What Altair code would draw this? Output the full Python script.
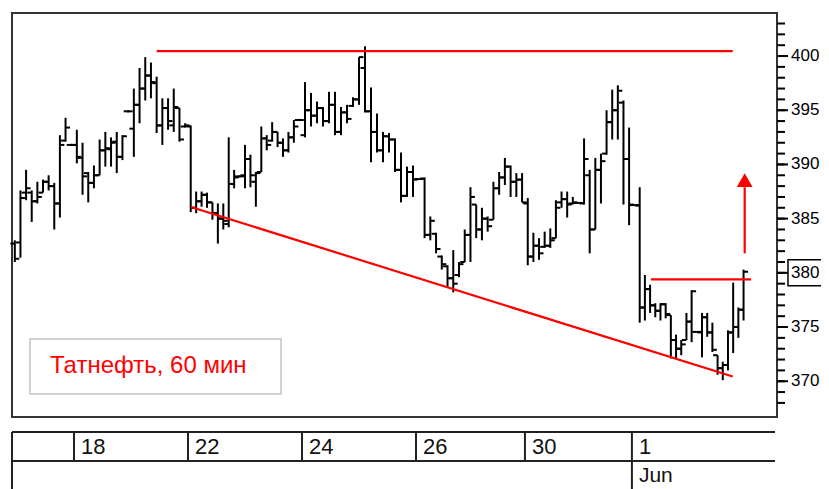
import altair as alt
import pandas as pd

# ---- time axis: bar slots, day separators (in slot units) ----
SEG_BOUNDS = [0, 11.07, 31.43, 51.79, 72.14, 91.6, 110.7, 131.1]
SEG_SIZES = [11, 20, 21, 19, 19, 19, 22]
DAY_LABELS = ["18", "22", "24", "26", "30", "1"]
MONTH_LABELS = ["Jun"]

# ---- hourly OHLC ----
OPEN = [
    382.7, 382.8, 387.4, 387.4, 386.6, 387.4, 388.4, 388.0, 386.4, 392.2, 391.8,
    391.8, 390.6, 389.2, 388.3, 389.0, 391.3, 391.4, 392.1, 390.7, 394.9, 393.3, 395.5, 397.0, 398.2, 397.5, 393.6, 395.2, 393.6, 395.2, 393.5,
    393.5, 386.0, 386.6, 387.2, 386.5, 385.5, 385.0, 384.5, 388.2, 388.9, 389.0, 390.5, 388.4, 389.3, 392.4, 392.2, 393.0, 392.0, 391.3, 392.5, 394.1,
    392.7, 395.0, 394.5, 395.2, 394.0, 395.5, 393.0, 394.8, 395.4, 396.0, 398.9, 394.9, 393.0, 391.3, 392.6, 392.3, 389.5, 387.1, 389.3,
    388.65, 388.7, 383.5, 383.6, 381.5, 380.6, 379.5, 379.8, 381.0, 383.5, 386.3, 384.0, 385.0, 384.9, 387.8, 388.8, 389.8, 388.4, 388.6,
    386.4, 381.5, 382.5, 382.4, 382.5, 383.2, 386.5, 386.8, 386.4, 386.45, 386.4, 389.0, 384.0, 389.5, 391.0, 393.9, 395.0, 395.7, 390.5,
    386.25, 386.2, 376.8, 378.5, 377.0, 376.5, 377.1, 376.1, 373.8, 373.0, 373.8, 375.5, 374.55, 374.5, 375.9, 374.5, 372.4, 371.2, 371.5, 374.5, 375.0, 376.6,
]
HIGH = [
    383.0, 387.6, 389.5, 387.6, 388.4, 388.6, 389.0, 388.3, 392.7, 394.3, 391.9,
    393.2, 392.0, 389.3, 389.9, 392.3, 393.0, 392.5, 393.0, 392.7, 395.0, 397.0, 398.9, 399.9, 399.4, 398.1, 396.1, 396.1, 397.0, 395.2, 393.8,
    393.6, 387.5, 387.5, 387.4, 386.5, 386.4, 386.4, 392.5, 389.5, 389.0, 391.8, 390.9, 389.3, 393.5, 392.7, 393.9, 393.0, 392.4, 393.0, 394.1, 394.2,
    397.6, 396.6, 395.8, 395.3, 396.7, 396.7, 395.3, 395.5, 396.2, 399.9, 400.9, 397.1, 394.7, 393.0, 392.9, 392.4, 391.1, 389.8, 389.9,
    388.7, 388.8, 385.2, 383.7, 381.6, 380.7, 382.1, 381.0, 384.0, 387.9, 386.3, 386.0, 385.2, 388.4, 389.3, 390.6, 389.9, 389.2, 389.2,
    386.9, 383.7, 383.2, 383.8, 384.1, 386.7, 387.5, 387.5, 387.0, 386.5, 392.4, 389.5, 390.6, 391.0, 395.0, 396.9, 397.3, 395.9, 393.4,
    386.3, 387.9, 379.8, 378.9, 377.2, 377.2, 377.2, 376.1, 374.3, 373.8, 376.3, 378.4, 374.6, 376.3, 376.3, 375.4, 372.4, 371.8, 374.7, 379.1, 376.8, 380.3,
]
LOW = [
    381.0, 381.4, 386.7, 384.7, 386.4, 387.4, 387.6, 384.0, 385.1, 392.1, 391.7,
    390.1, 387.2, 386.5, 387.8, 389.0, 389.8, 389.8, 389.2, 390.4, 394.8, 390.7, 393.8, 395.9, 396.1, 392.9, 391.8, 393.2, 393.0, 392.1, 393.4,
    385.6, 385.5, 386.1, 386.0, 384.9, 382.7, 384.0, 384.2, 387.8, 388.8, 387.8, 387.9, 386.1, 389.3, 391.3, 392.1, 391.6, 390.7, 391.1, 392.0, 394.0,
    392.5, 393.5, 393.8, 393.5, 393.8, 392.7, 392.7, 393.8, 395.3, 395.5, 394.8, 390.2, 391.1, 390.2, 391.1, 389.3, 386.5, 387.0, 387.0,
    388.6, 383.2, 383.0, 381.8, 380.3, 378.7, 378.2, 379.6, 381.0, 381.0, 383.2, 383.0, 383.8, 384.9, 387.2, 388.1, 387.0, 387.0, 386.5,
    380.7, 381.0, 381.2, 382.3, 382.3, 383.2, 386.0, 385.1, 386.3, 386.4, 386.3, 381.8, 384.0, 386.4, 390.9, 392.3, 392.3, 386.3, 384.4,
    386.2, 375.4, 375.6, 376.3, 375.9, 375.6, 375.8, 372.1, 372.1, 372.4, 373.8, 373.6, 374.5, 372.2, 374.1, 372.7, 370.6, 370.1, 371.0, 372.6, 374.0, 375.6,
]
CLOSE = [
    381.3, 386.9, 387.8, 386.6, 387.0, 388.4, 388.0, 386.4, 391.8, 393.4, 391.8,
    390.7, 388.9, 388.3, 389.0, 391.3, 391.5, 392.0, 390.7, 392.6, 394.9, 395.5, 397.0, 398.2, 397.6, 393.6, 395.2, 394.0, 395.3, 392.3, 393.6,
    386.0, 386.6, 387.2, 386.5, 385.5, 385.0, 384.8, 388.2, 388.8, 388.9, 390.5, 389.0, 389.2, 392.4, 391.8, 393.0, 392.0, 391.3, 392.5, 393.5, 394.1,
    395.0, 394.5, 395.2, 394.0, 395.5, 393.0, 394.8, 394.2, 396.0, 399.9, 394.9, 393.0, 391.3, 392.6, 392.3, 389.5, 387.1, 389.3, 388.6,
    388.65, 383.5, 384.8, 382.2, 380.8, 379.5, 379.0, 380.8, 383.5, 387.0, 384.0, 385.0, 384.3, 387.8, 388.8, 389.8, 388.4, 388.6, 386.5,
    381.5, 382.5, 381.8, 382.5, 383.0, 386.0, 386.8, 386.3, 386.5, 386.45, 390.5, 384.0, 389.5, 390.3, 393.9, 395.0, 396.8, 390.5, 386.3,
    386.25, 376.8, 378.5, 377.0, 376.5, 377.1, 376.2, 373.8, 373.0, 373.4, 375.5, 378.3, 374.55, 375.9, 374.5, 372.9, 371.2, 371.5, 374.5, 375.0, 376.6, 380.1,
]

# ---- axis & annotations ----
Y_MAJOR = [370, 375, 380, 385, 390, 395, 400]
Y_MINOR = list(range(368, 404))
LAST_PRICE = [380]
TITLE = ["Татнефть, 60 мин"]
SEG_X0 = [25.84, 31.96, 114.1, 130.84]
SEG_X1 = [128.7, 128.7, 131.96, 130.84]
SEG_Y0 = [400.46, 386.07, 379.40, 381.8]
SEG_Y1 = [400.46, 370.43, 379.40, 387.9]
ARROW_HEAD = [(130.84, 388.56)]

# slot positions of bars within each day segment
t = []
for k, n in enumerate(SEG_SIZES):
    a, b = SEG_BOUNDS[k], SEG_BOUNDS[k + 1]
    for j in range(n):
        t.append(a + (j + 0.5) * (b - a) / n)

bars = pd.DataFrame({"t": t, "o": OPEN, "h": HIGH, "l": LOW, "c": CLOSE})
segs = pd.DataFrame({"x0": SEG_X0, "x1": SEG_X1, "y0": SEG_Y0, "y1": SEG_Y1})
head = pd.DataFrame({"x": [p[0] for p in ARROW_HEAD], "y": [p[1] for p in ARROW_HEAD]})
days = pd.DataFrame({"b": SEG_BOUNDS[1:7], "lab": DAY_LABELS})
month = pd.DataFrame({"b": [SEG_BOUNDS[6]], "lab": MONTH_LABELS})
one = pd.DataFrame({"k": [0]})
major = pd.DataFrame({"v": Y_MAJOR, "s": [str(v) for v in Y_MAJOR]})

xs = alt.Scale(domain=[0, 136.61], nice=False, zero=False)
ys = alt.Scale(domain=[366.70, 403.97], nice=False, zero=False)

BLACK = "#000000"
RED = "#ff0000"

label_box = alt.Chart(one).mark_rect(fill="white", stroke="#c4c4c4", strokeWidth=1.5).encode(
    x=alt.value(18), x2=alt.value(269), y=alt.value(326), y2=alt.value(381))
label_text = alt.Chart(pd.DataFrame({"s": TITLE})).mark_text(
    align="left", baseline="alphabetic", font="Liberation Sans", fontSize=24, color=RED
).encode(x=alt.value(38), y=alt.value(360), text="s:N")

vbar = alt.Chart(bars).mark_rule(color=BLACK, strokeWidth=2).encode(
    x=alt.X("t:Q", scale=xs, axis=None),
    y=alt.Y("l:Q", scale=ys, axis=None), y2="h:Q")
otick = alt.Chart(bars).transform_calculate(tl="datum.t - 0.8").mark_rule(
    color=BLACK, strokeWidth=2).encode(
    x=alt.X("tl:Q", scale=xs, axis=None), x2="t:Q",
    y=alt.Y("o:Q", scale=ys, axis=None))
ctick = alt.Chart(bars).transform_calculate(tr="datum.t + 0.8").mark_rule(
    color=BLACK, strokeWidth=2).encode(
    x=alt.X("t:Q", scale=xs, axis=None), x2="tr:Q",
    y=alt.Y("c:Q", scale=ys, axis=None))

lines = alt.Chart(segs).mark_rule(color=RED, strokeWidth=2.2).encode(
    x=alt.X("x0:Q", scale=xs, axis=None), x2="x1:Q",
    y=alt.Y("y0:Q", scale=ys, axis=None), y2="y1:Q")
arrow = alt.Chart(head).mark_point(shape="triangle-up", size=250, filled=True,
                                   color=RED, opacity=1).encode(
    x=alt.X("x:Q", scale=xs, axis=None), y=alt.Y("y:Q", scale=ys, axis=None))

# right price axis: minor ticks, major ticks, labels
minor = alt.Chart(pd.DataFrame({"v": Y_MINOR})).mark_rule(color=BLACK, strokeWidth=2).encode(
    x=alt.value(765), x2=alt.value(773), y=alt.Y("v:Q", scale=ys, axis=None))
major_ticks = alt.Chart(major).mark_rule(color=BLACK, strokeWidth=2).encode(
    x=alt.value(765), x2=alt.value(776), y=alt.Y("v:Q", scale=ys, axis=None))
major_text = alt.Chart(major).mark_text(
    align="left", baseline="middle", font="Liberation Sans", fontSize=17, color=BLACK
).encode(x=alt.value(779), y=alt.Y("v:Q", scale=ys, axis=None), text="s:N")
price_box = alt.Chart(pd.DataFrame({"v": LAST_PRICE})).transform_calculate(
    top="datum.v + 1.2", bot="datum.v - 1.2").mark_rect(
    fill="white", fillOpacity=0, stroke=BLACK, strokeWidth=1.5).encode(
    x=alt.value(776), x2=alt.value(850),
    y=alt.Y("top:Q", scale=ys, axis=None), y2="bot:Q")

GRID = "#222222"
hline1 = alt.Chart(one).mark_rule(color=GRID, strokeWidth=2).encode(
    x=alt.value(0), x2=alt.value(763), y=alt.value(419))
hline2 = alt.Chart(one).mark_rule(color=GRID, strokeWidth=2).encode(
    x=alt.value(0), x2=alt.value(763), y=alt.value(448))
vleft = alt.Chart(one).mark_rule(color=GRID, strokeWidth=2).encode(
    x=alt.value(0), y=alt.value(419), y2=alt.value(500))
seps = alt.Chart(days).mark_rule(color=GRID, strokeWidth=2).encode(
    x=alt.X("b:Q", scale=xs, axis=None), y=alt.value(419), y2=alt.value(448))
day_text = alt.Chart(days).mark_text(
    align="left", baseline="alphabetic", dx=7, font="Liberation Sans",
    fontSize=22, color="#111111").encode(
    x=alt.X("b:Q", scale=xs, axis=None), y=alt.value(441), text="lab:N")
msep = alt.Chart(month).mark_rule(color=GRID, strokeWidth=2).encode(
    x=alt.X("b:Q", scale=xs, axis=None), y=alt.value(448), y2=alt.value(500))
month_text = alt.Chart(month).mark_text(
    align="left", baseline="alphabetic", dx=7, font="Liberation Sans",
    fontSize=21, color="#111111").encode(
    x=alt.X("b:Q", scale=xs, axis=None), y=alt.value(469), text="lab:N")

chart = alt.layer(
    label_box, label_text, vbar, otick, ctick, lines, arrow,
    minor, major_ticks, major_text, price_box,
    hline1, hline2, vleft, seps, day_text, msep, month_text
).properties(
    width=765, height=404,
    autosize=alt.AutoSizeParams(type="none"),
    padding={"left": 4, "top": 5, "right": 44, "bottom": 72},
).configure_view(stroke="#333333", strokeWidth=2)

chart.save("out.html", embed_options={"renderer": "svg", "actions": False})
